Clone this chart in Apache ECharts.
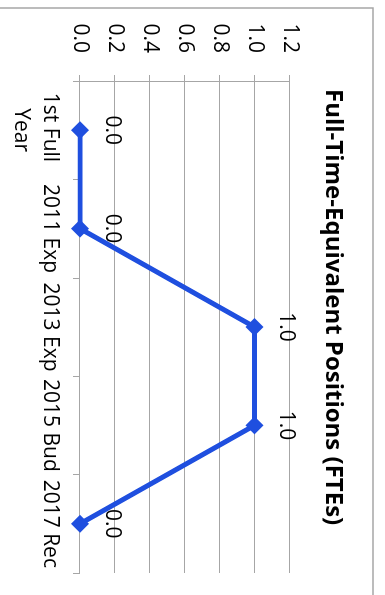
<!DOCTYPE html>
<html>
<head>
<meta charset="utf-8">
<script src="https://cdn.jsdelivr.net/npm/echarts@6/dist/echarts.min.js"></script>
<style>
  html, body { margin: 0; padding: 0; background: #fff; overflow: hidden; }
  /* The chart is laid out landscape and turned a quarter turn clockwise on the page */
  #chart {
    position: absolute; left: 0; top: 0;
    width: 595px; height: 385px;
    transform-origin: 0 0;
    transform: translateX(385px) rotate(90deg);
  }
</style>
</head>
<body>
<div id="chart"></div>
<script>
const categories = ['1st Full Year', '2011 Exp', '2013 Exp', '2015 Bud', '2017 Rec'];
const fteValues = [0, 0, 1, 1, 0];
const axisTicks = { min: 0, max: 1.2, step: 0.2 };
const titleText = 'Full-Time-Equivalent Positions (FTEs)';

const FONT = '"Open Sans", "Noto Sans", sans-serif';
const GRID_GRAY = '#a6a6a6';
const LINE_BLUE = '#1f4fdf';

const chart = echarts.init(document.getElementById('chart'), null, { renderer: 'canvas' });

chart.setOption({
  animation: false,
  backgroundColor: '#fff',
  title: {
    text: titleText,
    left: 84,
    top: 35,
    textStyle: { fontFamily: FONT, fontWeight: 'bold', fontSize: 24, color: '#000' }
  },
  graphic: [{
    type: 'rect',
    shape: { x: 8, y: 12, width: 700, height: 500 },
    style: { fill: 'none', stroke: GRID_GRAY, lineWidth: 1.5 },
    silent: true
  }],
  grid: { left: 81, right: 22, top: 95.5, bottom: 80, containLabel: false },
  xAxis: {
    type: 'category',
    data: categories,
    boundaryGap: true,
    axisLine: { show: true, lineStyle: { color: GRID_GRAY, width: 1 } },
    axisTick: { show: true, length: 7, lineStyle: { color: GRID_GRAY } },
    axisLabel: {
      fontFamily: FONT, fontSize: 21, color: '#000', margin: 16,
      width: 110, overflow: 'break', lineHeight: 29, interval: 0
    }
  },
  yAxis: {
    type: 'value',
    min: axisTicks.min,
    max: axisTicks.max,
    interval: axisTicks.step,
    axisLine: { show: true, lineStyle: { color: GRID_GRAY, width: 1 } },
    axisTick: { show: true, length: 6, lineStyle: { color: GRID_GRAY } },
    splitLine: { show: true, lineStyle: { color: GRID_GRAY, width: 1 } },
    axisLabel: {
      fontFamily: FONT, fontSize: 21, color: '#000', margin: 28,
      formatter: v => v.toFixed(1)
    }
  },
  series: [{
    type: 'line',
    data: fteValues,
    symbol: 'diamond',
    symbolSize: 18,
    lineStyle: { color: LINE_BLUE, width: 5 },
    itemStyle: { color: LINE_BLUE },
    label: {
      show: true,
      position: 'top',
      distance: 12,
      fontFamily: FONT, fontSize: 21, color: '#000',
      formatter: p => Number(p.value).toFixed(1)
    }
  }]
});
</script>
</body>
</html>
